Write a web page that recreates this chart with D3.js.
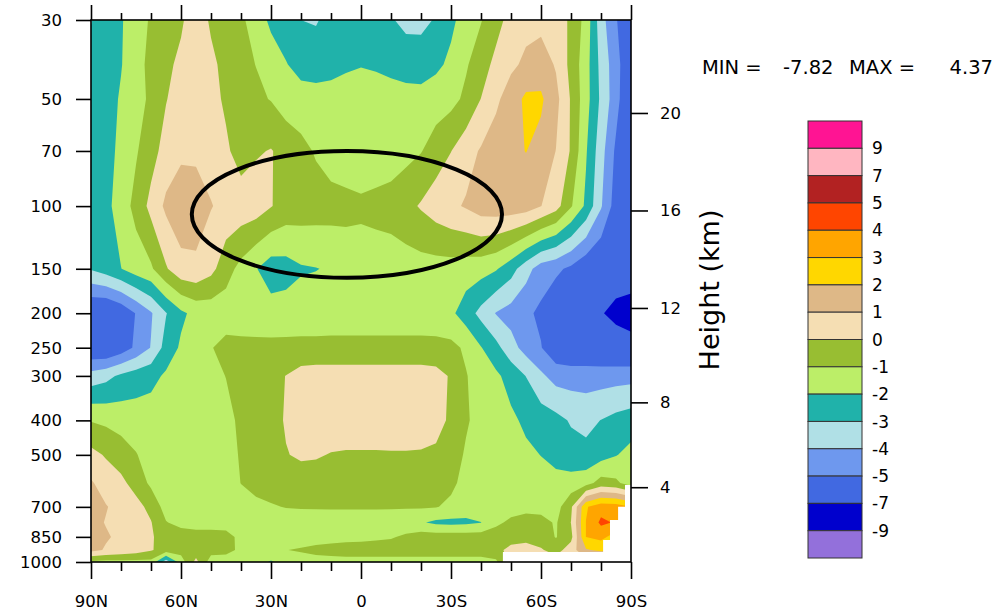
<!DOCTYPE html>
<html>
<head>
<meta charset="utf-8">
<script src="https://cdn.jsdelivr.net/npm/d3@7"></script>
<style>
  body { margin: 0; background: #fff; }
  svg text { font-family: "DejaVu Sans", "Liberation Sans", Arial, sans-serif; fill: #000; }
</style>
</head>
<body>
<svg id="chart" width="998" height="611"></svg>
<script>
// latitude columns (deg, + = N) and pressure rows (hPa, top to bottom)
const lats = [90, 85, 80, 75, 70, 65, 60, 55, 50, 45, 40, 35, 30, 25, 20, 15, 10, 5, 0,
  -5, -10, -15, -20, -25, -30, -35, -40, -45, -50, -55, -60, -65, -70, -75, -80, -85, -90];
const levels = [30, 40, 50, 70, 100, 150, 200, 250, 300, 400, 500, 600, 700, 775, 850, 925, 1000];

// anomaly field, one row per level
const anomaly = [
  [-3.05,-2.5,-2.1,-1.4,-0.9,-0.5,-0.2,0.8,-0.2,-0.5,-0.8,-1.5,-2.2,-2.5,-3.0,-3.1,-2.6,-2.6,-2.6,-2.6,-2.9,-3.3,-3.3,-2.9,-2.2,-1.6,-1.05,-0.4,0.4,0.7,0.7,0.6,-0.2,-1.35,-3.6,-4.9,-6.2],
  [-2.6,-2.5,-2.05,-1.4,-0.7,-0.3,0.3,0.7,0.3,-0.4,-0.7,-1.02,-1.5,-1.95,-2.35,-2.35,-2.25,-2.1,-2.03,-2.08,-2.2,-2.35,-2.4,-2.2,-1.8,-1.1,-0.5,0.3,0.8,1.2,1.5,0.9,-0.3,-1.6,-3.3,-4.6,-6.0],
  [-2.6,-2.4,-1.9,-1.4,-0.8,-0.05,0.5,0.7,0.4,-0.2,-0.5,-0.8,-1.05,-1.5,-1.6,-1.7,-1.7,-1.7,-1.7,-1.7,-1.7,-1.7,-1.7,-1.5,-1.3,-0.8,0.02,0.8,1.5,2.2,2.15,1.3,-0.1,-1.6,-3.2,-4.6,-6.2],
  [-2.6,-2.3,-1.8,-1.1,-0.4,0.4,0.8,0.8,0.6,0.2,-0.5,-0.1,0.05,-0.3,-0.7,-1.1,-1.5,-1.6,-1.7,-1.6,-1.5,-1.3,-1.05,-0.5,-0.02,0.6,1.1,1.5,1.8,2.02,1.7,0.98,-0.1,-1.9,-3.6,-5.2,-6.3],
  [-2.7,-2.3,-1.5,-0.7,0.3,1.2,1.6,1.5,1.05,0.7,0.6,0.5,0.05,-0.4,-0.5,-0.55,-0.6,-0.7,-0.8,-0.7,-0.6,-0.3,0.1,0.5,0.8,1.1,1.5,1.6,1.6,1.5,1.02,0.4,-0.9,-2.2,-3.9,-5.5,-6.4],
  [-2.9,-2.5,-2.02,-1.5,-1.15,-0.1,0.7,0.8,0.3,-0.6,-1.3,-1.95,-2.5,-2.4,-2.1,-2.03,-1.9,-1.6,-1.5,-1.5,-1.5,-1.45,-1.4,-1.4,-1.4,-1.5,-1.6,-1.9,-2.6,-3.6,-4.5,-4.8,-5.2,-5.8,-6.1,-6.2,-6.0],
  [-6.2,-6.3,-5.8,-4.95,-4.1,-3.05,-2.2,-1.7,-1.6,-1.5,-1.5,-1.55,-1.6,-1.55,-1.5,-1.5,-1.45,-1.45,-1.45,-1.45,-1.45,-1.45,-1.45,-1.6,-1.8,-2.5,-3.3,-4.05,-4.4,-4.8,-5.2,-5.8,-6.2,-6.5,-6.9,-7.4,-7.8],
  [-6.0,-6.1,-5.6,-4.8,-3.95,-2.6,-1.85,-1.4,-1.05,-0.7,-0.75,-0.75,-0.75,-0.75,-0.75,-0.75,-0.75,-0.75,-0.75,-0.75,-0.75,-0.75,-0.75,-0.7,-0.75,-1.15,-1.95,-2.7,-3.6,-4.4,-4.95,-5.8,-6.0,-6.0,-6.1,-6.2,-6.3],
  [-3.6,-3.3,-2.8,-2.5,-2.3,-1.85,-1.6,-1.45,-1.3,-0.98,-0.6,-0.4,-0.3,0.02,0.4,0.5,0.5,0.5,0.5,0.5,0.5,0.5,0.5,0.35,-0.1,-0.95,-1.4,-1.8,-2.4,-3.02,-3.8,-4.4,-4.45,-4.45,-4.45,-4.4,-4.35],
  [-1.05,-1.2,-1.4,-1.5,-1.5,-1.5,-1.5,-1.5,-1.45,-1.3,-0.8,-0.5,-0.4,0.1,0.5,0.6,0.6,0.6,0.6,0.6,0.6,0.6,0.55,0.4,-0.2,-0.9,-1.3,-1.5,-1.8,-2.2,-2.5,-2.7,-3.1,-3.3,-2.98,-2.7,-2.5],
  [0.3,-0.1,-0.5,-0.95,-1.4,-1.5,-1.5,-1.5,-1.5,-1.4,-0.9,-0.5,-0.4,-0.05,0.15,0.1,-0.05,-0.1,-0.1,-0.1,-0.08,-0.08,-0.1,-0.2,-0.6,-1.1,-1.4,-1.5,-1.6,-1.8,-2.02,-2.4,-2.6,-2.7,-2.4,-2.05,-1.7],
  [1.1,0.6,0.25,-0.4,-1.2,-1.5,-1.5,-1.5,-1.5,-1.5,-0.98,-0.6,-0.5,-0.5,-0.5,-0.5,-0.5,-0.5,-0.5,-0.5,-0.5,-0.5,-0.5,-0.55,-0.8,-1.3,-1.5,-1.5,-1.5,-1.6,-1.6,-1.6,-1.6,-1.4,-0.6,-0.8,-1.5],
  [1.4,1.05,0.7,0.35,-0.3,-1.4,-1.5,-1.5,-1.5,-1.5,-1.5,-1.3,-1.1,-0.95,-0.9,-0.9,-0.9,-0.9,-0.9,-0.9,-0.9,-0.9,-0.9,-0.95,-1.2,-1.5,-1.5,-1.5,-1.4,-1.3,-1.3,-1.4,-0.2,2.9,3.6,3.5,3.0],
  [1.3,0.95,0.6,0.4,0.05,-0.95,-1.3,-1.5,-1.5,-1.5,-1.5,-1.6,-1.6,-1.6,-1.6,-1.55,-1.5,-1.5,-1.5,-1.5,-1.55,-1.7,-1.9,-2.2,-2.25,-2.2,-2.02,-1.2,-0.8,-0.6,-0.7,-1.1,0.02,3.02,4.2,3.9,3.0],
  [1.5,1.1,0.8,0.5,0.1,-0.4,-0.5,-0.5,-0.5,-0.6,-1.3,-1.5,-1.5,-1.5,-1.5,-1.5,-1.4,-1.35,-1.3,-1.2,-1.1,-0.8,-0.5,-0.5,-0.5,-0.5,-0.5,-0.5,-0.45,-0.4,-0.5,-1.05,-0.3,3.02,3.3,2.5,2.0],
  [1.3,0.9,0.7,0.5,0.1,-0.5,-0.6,-0.6,-0.6,-0.7,-1.2,-1.4,-1.3,-1.02,-0.9,-0.7,-0.6,-0.5,-0.5,-0.5,-0.5,-0.5,-0.5,-0.5,-0.5,-0.5,-0.5,-0.3,0.3,0.5,0.1,-0.4,0.5,1.9,2.2,2.0,2.0],
  [-1.2,-1.3,-1.3,-1.3,-1.3,-3.6,-1.5,0.3,-1.5,-1.5,-1.5,-1.6,-2.1,-1.6,-1.4,-1.4,-1.4,-1.4,-1.4,-1.4,-1.4,-1.4,-1.4,-1.4,-1.4,-1.4,-1.4,-1.2,0.5,0.5,0.5,0.5,0.5,0.5,0.5,0.5,0.5]
];

// contour levels and their fill colours (lowest band first)
const thresholds = [-9, -7, -5, -4, -3, -2, -1, 0, 1, 2, 3, 4, 5, 7, 9];
const fillColors = ["#9370db", "#0000cd", "#4169e1", "#6e98ee", "#b0e0e6", "#20b2aa", "#bcee68", "#98be32",
  "#f5deb3", "#deb887", "#ffd700", "#ffa500", "#ff4500", "#b22222", "#ffb6c1", "#ff1493"];
const legendLabels = ["9", "7", "5", "4", "3", "2", "1", "0", "-1", "-2", "-3", "-4", "-5", "-7", "-9"];

const pressureTicks = [1000, 850, 700, 500, 400, 300, 250, 200, 150, 100, 70, 50, 30];
const heightTicks = [4, 8, 12, 16, 20];
const latTicks = [90, 60, 30, 0, -30, -60, -90];
const latMinor = [80, 70, 50, 40, 20, 10, -10, -20, -40, -50, -70, -80];
const latLabels = ["90N", "60N", "30N", "0", "30S", "60S", "90S"];

// no data below the Antarctic surface (lat, hPa)
const missing = [[-88, 608], [-90, 608], [-90, 1000], [-47.3, 1000], [-47.3, 937], [-80.7, 937],
  [-80.7, 867], [-83, 867], [-83, 762], [-85.7, 762], [-85.7, 700], [-88, 700]];
// hand drawn ellipse round the tropopause region
const ring = { lat: 4.7, halfWidth: 51.7, pTop: 70, pBottom: 159 };
const stats = { min: "-7.82", max: "4.37" };

const svg = d3.select("#chart");
const x = d3.scaleLinear().domain([90, -90]).range([91, 631]);
const y = d3.scaleLog().domain([30, 1000]).range([20, 562]);

// standard atmosphere height -> pressure, for the right axis
function stdPressure(km) {
  const z = km * 1000;
  if (z <= 11000) return 1013.25 * Math.pow(1 - 0.0065 * z / 288.15, 5.25588);
  return 226.32 * Math.exp(-(z - 11000) / 6341.62);
}

const nx = lats.length, ny = levels.length;
function lerpIndex(c, n, f) {
  const i = Math.max(0, Math.min(n - 1, c - 0.5));
  const i0 = Math.floor(i), i1 = Math.min(n - 1, i0 + 1);
  return f(i0) + (f(i1) - f(i0)) * (i - i0);
}
const gridPath = d3.geoPath(d3.geoTransform({
  point: function(cx, cy) {
    this.stream.point(lerpIndex(cx, nx, i => x(lats[i])), lerpIndex(cy, ny, j => y(levels[j])));
  }
}));

svg.append("clipPath").attr("id", "plotClip")
  .append("rect").attr("x", 91).attr("y", 20).attr("width", 540).attr("height", 542);

const bands = d3.contours().size([nx, ny]).thresholds([-100].concat(thresholds))(anomaly.flat());

const field = svg.append("g").attr("clip-path", "url(#plotClip)");
field.selectAll("path.band")
  .data(bands)
  .join("path")
  .attr("class", "band")
  .attr("d", gridPath)
  .attr("fill", (d, i) => fillColors[i]);

field.append("path")
  .attr("d", d3.line().x(d => x(d[0])).y(d => y(d[1])).curve(d3.curveLinearClosed)(missing))
  .attr("fill", "#fff");

// axes
function styleAxis(g) {
  g.selectAll("path.domain").remove();
  g.selectAll("line").attr("stroke", "#000").attr("stroke-width", 1.6);
  g.selectAll("text").attr("font-size", 16.5).attr("font-family", null);
}

svg.append("g").attr("transform", "translate(91,0)")
  .call(d3.axisLeft(y).tickValues(pressureTicks).tickFormat(d3.format("d")).tickSize(15).tickPadding(14).tickSizeOuter(0))
  .call(styleAxis);

svg.append("g").attr("transform", "translate(631,0)")
  .call(d3.axisRight(y).tickValues(heightTicks.map(stdPressure)).tickFormat((d, i) => heightTicks[i]).tickSize(17).tickPadding(12).tickSizeOuter(0))
  .call(styleAxis);

svg.append("g").attr("transform", "translate(0,20)")
  .call(d3.axisTop(x).tickValues(latMinor).tickFormat("").tickSize(7).tickSizeOuter(0))
  .call(styleAxis);
svg.append("g").attr("transform", "translate(0,20)")
  .call(d3.axisTop(x).tickValues(latTicks).tickFormat("").tickSize(15).tickSizeOuter(0))
  .call(styleAxis);

svg.append("g").attr("transform", "translate(0,562)")
  .call(d3.axisBottom(x).tickValues(latMinor).tickFormat("").tickSize(9).tickSizeOuter(0))
  .call(styleAxis);
svg.append("g").attr("transform", "translate(0,562)")
  .call(d3.axisBottom(x).tickValues(latTicks).tickFormat((d, i) => latLabels[i]).tickSize(17).tickPadding(16).tickSizeOuter(0))
  .call(styleAxis);

svg.append("rect")
  .attr("x", 91).attr("y", 20).attr("width", 540).attr("height", 542)
  .attr("fill", "none").attr("stroke", "#000").attr("stroke-width", 1.6);

// ellipse annotation
const ex = x(ring.lat), ey0 = y(ring.pTop), ey1 = y(ring.pBottom);
svg.append("ellipse")
  .attr("cx", ex).attr("cy", (ey0 + ey1) / 2)
  .attr("rx", x(ring.lat - ring.halfWidth) - ex).attr("ry", (ey1 - ey0) / 2)
  .attr("fill", "none").attr("stroke", "#000").attr("stroke-width", 4);

svg.append("text")
  .attr("transform", "translate(719,290) rotate(-90)")
  .attr("text-anchor", "middle")
  .attr("font-size", 27)
  .text("Height (km)");

// MIN / MAX line
const statLine = svg.append("g").attr("font-size", 19.5);
statLine.append("text").attr("x", 702).attr("y", 74).text("MIN =");
statLine.append("text").attr("x", 783).attr("y", 74).text(stats.min);
statLine.append("text").attr("x", 849).attr("y", 74).text("MAX =");
statLine.append("text").attr("x", 993).attr("y", 74).attr("text-anchor", "end").text(stats.max);

// colour bar
const ly = d3.scaleLinear().domain([0, fillColors.length]).range([121, 558]);
const legend = svg.append("g");
legend.selectAll("rect")
  .data(fillColors.slice().reverse())
  .join("rect")
  .attr("x", 808).attr("width", 54)
  .attr("y", (d, i) => ly(i)).attr("height", ly(1) - ly(0))
  .attr("fill", d => d)
  .attr("stroke", "#333").attr("stroke-width", 1);
legend.selectAll("text")
  .data(legendLabels)
  .join("text")
  .attr("x", 872).attr("y", (d, i) => ly(i + 1))
  .attr("dy", "0.36em")
  .attr("font-size", 17)
  .text(d => d);
</script>
</body>
</html>
